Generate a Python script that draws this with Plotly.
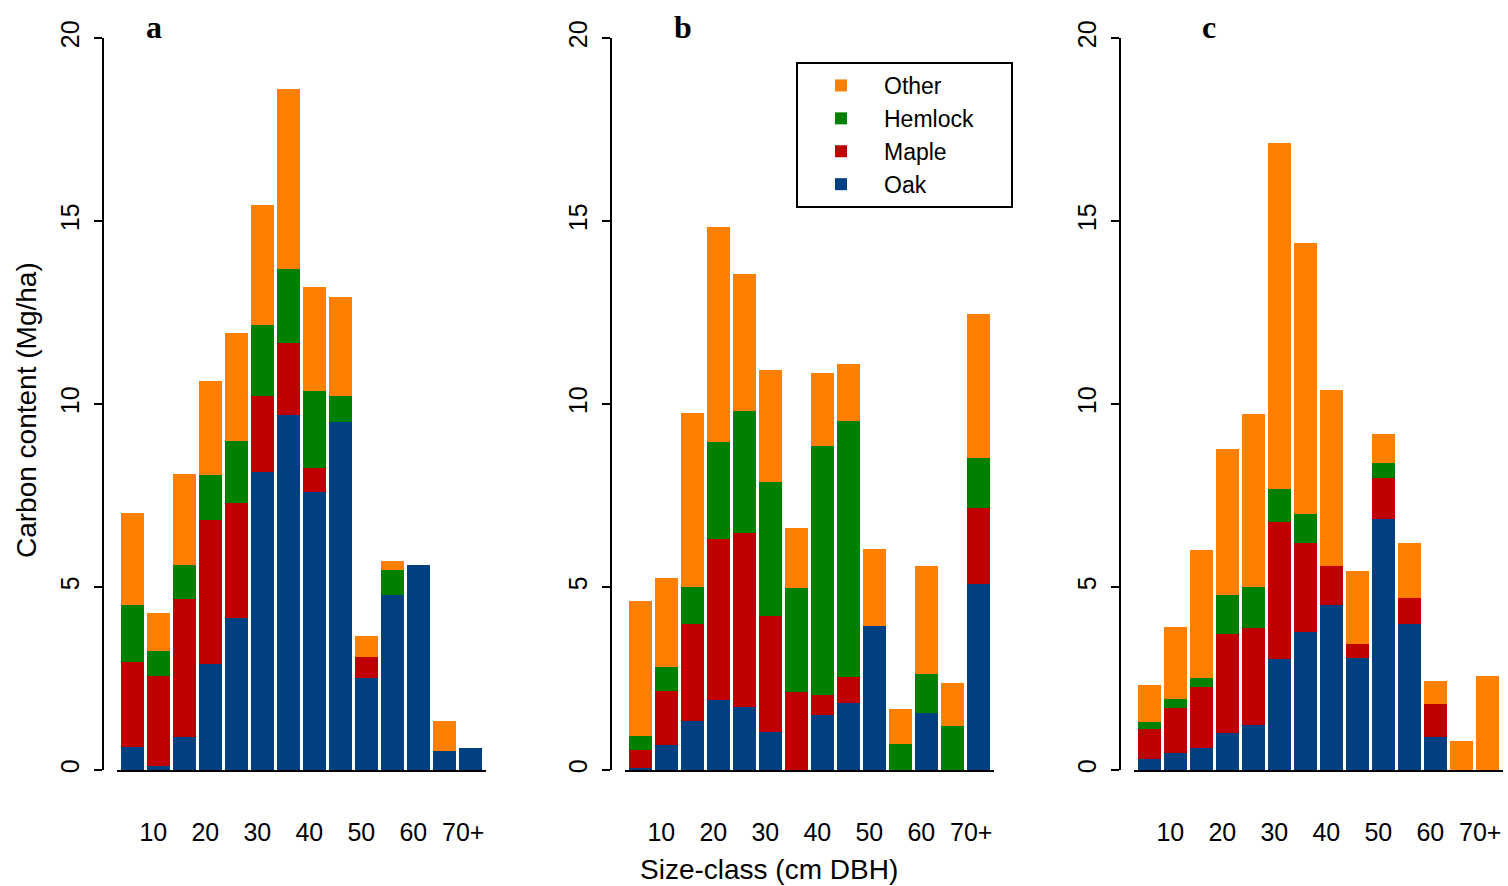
import plotly.graph_objects as go

W, H = 1508, 886

species = ["Oak", "Maple", "Hemlock", "Other"]
colors = {"Oak": "#004080", "Maple": "#C00000", "Hemlock": "#008000", "Other": "#FF8000"}

size_class_index = list(range(1, 15))
tick_labels = ["10", "20", "30", "40", "50", "60", "70+"]
tick_positions = [2, 4, 6, 8, 10, 12, 14]

# Panel a
a_oak     = [0.64, 0.10, 0.89, 2.89, 4.16, 8.15, 9.69, 7.60, 9.50, 2.52, 4.77, 5.59, 0.53, 0.61]
a_maple   = [2.31, 2.47, 3.79, 3.94, 3.14, 2.08, 1.99, 0.64, 0.00, 0.56, 0.00, 0.00, 0.00, 0.00]
a_hemlock = [1.56, 0.67, 0.93, 1.24, 1.69, 1.92, 2.00, 2.12, 0.73, 0.00, 0.70, 0.00, 0.00, 0.00]
a_other   = [2.52, 1.04, 2.47, 2.57, 2.95, 3.28, 4.94, 2.83, 2.70, 0.58, 0.25, 0.00, 0.80, 0.00]

# Panel b
b_oak     = [0.06, 0.69, 1.35, 1.90, 1.73, 1.03, 0.00, 1.49, 1.82, 3.94, 0.00, 1.55, 0.00, 5.09]
b_maple   = [0.50, 1.48, 2.63, 4.40, 4.74, 3.17, 2.14, 0.57, 0.73, 0.00, 0.00, 0.00, 0.00, 2.06]
b_hemlock = [0.37, 0.65, 1.03, 2.66, 3.33, 3.66, 2.83, 6.78, 6.99, 0.00, 0.72, 1.06, 1.21, 1.37]
b_other   = [3.69, 2.43, 4.74, 5.88, 3.74, 3.06, 1.65, 2.01, 1.54, 2.09, 0.95, 2.96, 1.17, 3.95]

# Panel c
c_oak     = [0.30, 0.47, 0.61, 1.00, 1.24, 3.04, 3.77, 4.50, 3.05, 6.85, 4.00, 0.91, 0.00, 0.00]
c_maple   = [0.83, 1.22, 1.66, 2.71, 2.65, 3.74, 2.42, 1.07, 0.40, 1.12, 0.71, 0.90, 0.00, 0.00]
c_hemlock = [0.17, 0.24, 0.25, 1.07, 1.11, 0.90, 0.81, 0.00, 0.00, 0.41, 0.00, 0.00, 0.00, 0.00]
c_other   = [1.02, 1.97, 3.50, 3.99, 4.73, 9.45, 7.39, 4.82, 1.98, 0.81, 1.48, 0.63, 0.79, 2.57]

panels = [
    ("a", {"Oak": a_oak, "Maple": a_maple, "Hemlock": a_hemlock, "Other": a_other}),
    ("b", {"Oak": b_oak, "Maple": b_maple, "Hemlock": b_hemlock, "Other": b_other}),
    ("c", {"Oak": c_oak, "Maple": c_maple, "Hemlock": c_hemlock, "Other": c_other}),
]

FONT = "Liberation Sans, Arial, Helvetica, sans-serif"
SERIF = "Liberation Serif, Times New Roman, serif"

yaxis_px = [103, 611, 1120]
letter_px = [154, 683, 1209]
y_bottom, y_top = 770, 38
legend_pad = "\u00a0" * 5  # widens the legend box to match the reference frame

fig = go.Figure()
layout = dict(
    width=W, height=H, autosize=False,
    margin=dict(l=0, r=0, t=0, b=0, autoexpand=False),
    paper_bgcolor="white", plot_bgcolor="white",
    barmode="stack", bargap=0.12,
    font=dict(family=FONT, size=25, color="black"),
    showlegend=True,
    legend=dict(
        x=796 / W, y=1 - 62 / H, xanchor="left", yanchor="top",
        bordercolor="black", borderwidth=2, bgcolor="white",
        font=dict(family=FONT, size=23, color="black"),
        traceorder="reversed", itemwidth=76,
    ),
)

annotations = []
for i, (letter, data) in enumerate(panels):
    n = "" if i == 0 else str(i + 1)
    xa = "x" + n
    ya = "y" + n
    for sp in species:
        fig.add_trace(go.Bar(
            x=size_class_index, y=data[sp], name=sp + legend_pad,
            marker=dict(color=colors[sp], line=dict(width=0)),
            xaxis=xa, yaxis=ya, showlegend=(i == 1), legendgroup=sp,
        ))
    x0 = yaxis_px[i]
    layout["xaxis" + n] = dict(
        domain=[(x0 + 14) / W, (x0 + 383) / W],
        range=[0.404, 14.596],
        anchor=ya, automargin=False,
        showline=True, linecolor="black", linewidth=1.5,
        showgrid=False, zeroline=False,
        ticks="", tickmode="array",
        tickvals=[p - 0.2 for p in tick_positions[:-1]] + [tick_positions[-1] - 0.28],
        ticktext=tick_labels,
        tickfont=dict(family=FONT, size=25, color="black"),
        ticklabelstandoff=39,
    )
    layout["yaxis" + n] = dict(
        domain=[1 - y_bottom / H, 1 - y_top / H],
        range=[0, 20],
        anchor="free", position=x0 / W, automargin=False,
        showline=True, linecolor="black", linewidth=1.5,
        showgrid=False, zeroline=False,
        ticks="outside", ticklen=8, tickwidth=1.5, tickcolor="black",
        tickvals=[0, 5, 10, 15, 20],
        tickangle=-90,
        tickfont=dict(family=FONT, size=25, color="black"),
        ticklabelstandoff=5,
    )
    annotations.append(dict(
        text="<b>%s</b>" % letter, x=letter_px[i] / W, y=1 - 27 / H,
        xref="paper", yref="paper", xanchor="center", yanchor="middle",
        showarrow=False, font=dict(family=SERIF, size=32, color="black"),
    ))

annotations.append(dict(
    text="Carbon content (Mg/ha)", x=26 / W, y=1 - 410 / H,
    xref="paper", yref="paper", xanchor="center", yanchor="middle",
    textangle=-90, showarrow=False, font=dict(family=FONT, size=28, color="black"),
))
annotations.append(dict(
    text="Size-class (cm DBH)", x=769 / W, y=1 - 869 / H,
    xref="paper", yref="paper", xanchor="center", yanchor="middle",
    showarrow=False, font=dict(family=FONT, size=28, color="black"),
))
layout["annotations"] = annotations

fig.update_layout(**layout)
fig.write_html("out.html")
